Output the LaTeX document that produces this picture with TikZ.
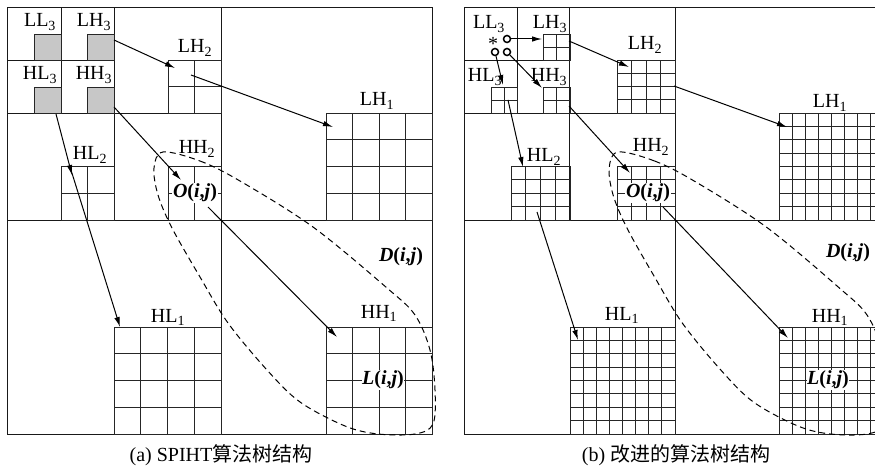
\documentclass[tikz,border=0pt]{standalone}
\usepackage{fontspec}
\setmainfont{Liberation Serif}
\newfontfamily\cjk{Noto Sans CJK SC}
\usetikzlibrary{arrows.meta}
\definecolor{sqgray}{gray}{0.78}
\newcommand{\ijl}[1]{\textbf{\textit{#1}(\textit{i},\textit{j})}}
% n x n grid in rectangle (#1,#2)-(#3,#4), lines snapped to pixel centres
\newcommand{\ngrid}[5]{%
  \pgfmathsetmacro{\gxa}{floor(#1)+0.5}%
  \pgfmathsetmacro{\gya}{floor(#2)+0.5}%
  \pgfmathsetmacro{\gxb}{floor(#3)+0.5}%
  \pgfmathsetmacro{\gyb}{floor(#4)+0.5}%
  \draw[gl] (\gxa,\gya) rectangle (\gxb,\gyb);
  \pgfmathtruncatemacro{\nmone}{#5-1}%
  \foreach \k in {1,...,\nmone}{%
    \pgfmathsetmacro{\gx}{floor(#1+(#3-#1)*\k/#5)+0.5}%
    \pgfmathsetmacro{\gy}{floor(#2+(#4-#2)*\k/#5)+0.5}%
    \draw[gl] (\gx,\gya) -- (\gx,\gyb);
    \draw[gl] (\gxa,\gy) -- (\gxb,\gy);
  }%
}
% frame: left, level-3 x, level-2 x, level-1 x, right
\newcommand{\panelframe}[5]{%
  \draw[fl] (#1,7.5) rectangle (#5,434.5);
  \draw[fl] (#4,7.5) -- (#4,434.5);
  \draw[fl] (#1,220.5) -- (#5,220.5);
  \draw[fl] (#3,7.5) -- (#3,220.5);
  \draw[fl] (#1,113.5) -- (#4,113.5);
  \draw[fl] (#2,7.5) -- (#2,113.5);
  \draw[fl] (#1,60.5) -- (#3,60.5);
}
\newcommand{\dashloop}{%
  \draw[dsh] plot[smooth cycle, tension=0.55] coordinates {
    (163,152) (200,161) (240,181) (313,227) (387,288) (415,315) (430,350)
    (435,390) (433,424) (415,434) (378,434) (345,426) (300,402) (267,370)
    (228,323) (200,277) (172,228) (158,195) (154,168)};
}
\begin{document}
\begin{tikzpicture}[x=1pt,y=-1pt,
  fl/.style={line width=1.4pt, black!90},
  gl/.style={line width=1.2pt, black!85},
  arr/.style={line width=1pt, -{Latex[length=10pt,width=5.5pt]}},
  dsh/.style={line width=1pt, dash pattern=on 6pt off 4pt},
  lab/.style={font=\fontsize{20}{22}\selectfont, inner sep=0pt, anchor=base},
  blab/.style={font=\fontsize{20}{22}\selectfont, inner sep=0.6pt, fill=white},
  captext/.style={font=\fontsize{20}{22}\selectfont, inner sep=0pt},
  ringdot/.style={circle, draw, line width=1.5pt, fill=white, minimum size=7pt, inner sep=0pt}]
\useasboundingbox (0,0) rectangle (875,470);
\fill[white] (0,0) rectangle (875,470);
\clip (0,0) rectangle (875,470);

% ================= panel (a) =================
\panelframe{7.5}{61.5}{114.5}{221.5}{432.5}
\foreach \gx/\gy in {34.5/34.5, 87.5/34.5, 34.5/87.5, 87.5/87.5}{
  \draw[gl, fill=sqgray] (\gx,\gy) rectangle ({\gx+27},{\gy+26});
}
\ngrid{168}{60}{221}{113}{2}
\ngrid{61}{166}{114}{220}{2}
\ngrid{168}{166}{221}{220}{2}
\ngrid{326}{113}{432}{220}{4}
\ngrid{114}{327}{221}{434}{4}
\ngrid{326}{327}{432}{434}{4}
\dashloop

\node[lab] (LLa3) at (40,27) {LL\textsubscript{3}};
\node[lab] (LHa3) at (94,27) {LH\textsubscript{3}};
\node[lab] (HLa3) at (40,80) {HL\textsubscript{3}};
\node[lab] (HHa3) at (94,80) {HH\textsubscript{3}};
\node[lab] (LHa2) at (195,53) {LH\textsubscript{2}};
\node[lab] (HLa2) at (90,160) {HL\textsubscript{2}};
\node[lab] (HHa2) at (197,154) {HH\textsubscript{2}};
\node[lab] (LHa1) at (377,106) {LH\textsubscript{1}};
\node[lab] (HLa1) at (168,322) {HL\textsubscript{1}};
\node[lab] (HHa1) at (379,318) {HH\textsubscript{1}};
\node[blab] (Oa) at (195,193) {\ijl{O}};
\node[blab, fill=none] (Da) at (401,257) {\ijl{D}};
\node[blab] (La) at (383,380) {\ijl{L}};

\coordinate (p1) at (114,40);  \coordinate (q1) at (175,68);
\coordinate (p2) at (191,75);  \coordinate (q2) at (333,127);
\coordinate (p3) at (56,114);  \coordinate (q3) at (72,175);
\coordinate (p4) at (71,170);  \coordinate (q4) at (120,327);
\coordinate (p5) at (114,107); \coordinate (q5) at (181,180);
\coordinate (p6) at (208,207); \coordinate (q6) at (337,337);
\draw[arr] (p1) -- (q1);
\draw[arr] (p2) -- (q2);
\draw[arr] (p3) -- (q3);
\draw[arr] (p4) -- (q4);
\draw[arr] (p5) -- (q5);
\draw[arr] (p6) -- (q6);

\node[captext] (capa) at (221,455) {(a) SPIHT{\cjk 算法树结构}};

% ================= panel (b) =================
\panelframe{464.5}{517.5}{569.5}{675.5}{884.5}
\ngrid{543}{34}{570}{60}{2}
\ngrid{491}{87}{517}{113}{2}
\ngrid{543}{87}{570}{113}{2}
\ngrid{617}{60}{675}{113}{4}
\ngrid{511}{166}{570}{220}{4}
\ngrid{617}{166}{675}{220}{4}
\ngrid{779}{113}{884}{220}{8}
\ngrid{570}{327}{675}{434}{8}
\ngrid{779}{327}{884}{434}{8}
\begin{scope}[shift={(457,0)}, xscale=0.988]
  \dashloop
\end{scope}

\node[lab] (LLb3) at (489,29) {LL\textsubscript{3}};
\node[lab] (LHb3) at (550,29) {LH\textsubscript{3}};
\node[lab] (HLb3) at (485,82) {HL\textsubscript{3}};
\node[lab] (HHb3) at (549,82) {HH\textsubscript{3}};
\node[lab] (LHb2) at (645,50) {LH\textsubscript{2}};
\node[lab] (HLb2) at (544,162) {HL\textsubscript{2}};
\node[lab] (HHb2) at (651,152) {HH\textsubscript{2}};
\node[lab] (LHb1) at (830,108) {LH\textsubscript{1}};
\node[lab] (HLb1) at (622,320) {HL\textsubscript{1}};
\node[lab] (HHb1) at (830,322) {HH\textsubscript{1}};
\node[blab] (Ob) at (648,193) {\ijl{O}};
\node[blab, fill=none] (Db) at (848,253) {\ijl{D}};
\node[blab] (Lb) at (828,380) {\ijl{L}};

\node[font=\fontsize{20}{22}\selectfont, inner sep=0pt] (ast) at (493,44) {*};
\node[ringdot] (c1) at (507,39) {};
\node[ringdot] (c2) at (495,52) {};
\node[ringdot] (c3) at (507,52) {};

\coordinate (e1) at (542,39);
\coordinate (e2) at (503,85);
\coordinate (e3) at (542,88);
\coordinate (s4) at (508,100); \coordinate (e4) at (523,167);
\coordinate (s5) at (569,41);  \coordinate (e5) at (629,67);
\coordinate (s6) at (569,106); \coordinate (e6) at (630,173);
\coordinate (s7) at (674,86);  \coordinate (e7) at (787,127);
\coordinate (s8) at (537,212); \coordinate (e8) at (578,340);
\coordinate (s9) at (663,207); \coordinate (e9) at (788,338);
\draw[arr] (c1) -- (e1);
\draw[arr] (c2) -- (e2);
\draw[arr] (c3) -- (e3);
\draw[arr] (s4) -- (e4);
\draw[arr] (s5) -- (e5);
\draw[arr] (s6) -- (e6);
\draw[arr] (s7) -- (e7);
\draw[arr] (s8) -- (e8);
\draw[arr] (s9) -- (e9);

\node[captext] (capb) at (676,455) {(b) {\cjk 改进的算法树结构}};
\end{tikzpicture}
\end{document}
